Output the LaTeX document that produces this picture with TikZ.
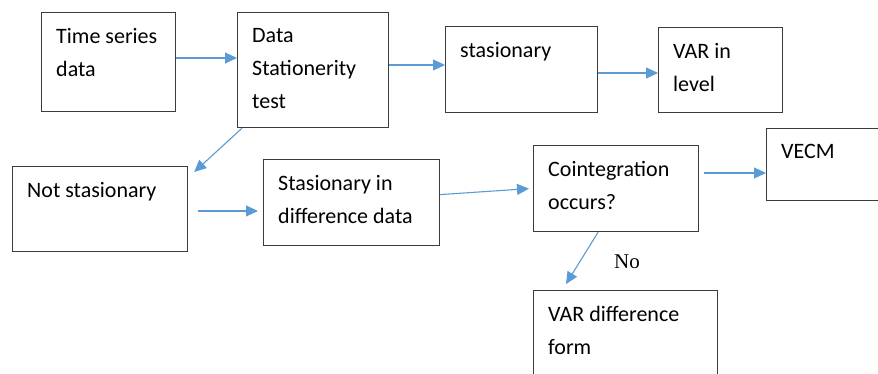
\documentclass[tikz,border=0pt]{standalone}
\usepackage{fontspec}
\setmainfont{Carlito}
\newfontfamily\serifno{Liberation Serif}
\usetikzlibrary{arrows.meta}

\definecolor{flowblue}{RGB}{91,155,213}
\definecolor{boxgray}{RGB}{60,60,60}

\begin{document}
\begin{tikzpicture}[x=1pt, y=-1pt,
	blk/.style={draw=boxgray, line width=1.2pt, anchor=north west, inner sep=0pt},
	txt/.style={anchor=north west, align=left, inner sep=0pt, xshift=15pt, yshift=-16pt,
		font=\fontsize{22}{33}\selectfont},
	arr/.style={draw=flowblue, line width=1.1pt, -{Triangle[length=12pt,width=11pt]}}]

	\useasboundingbox (0,0) rectangle (878,374);
	\clip (0,0) rectangle (878,374);

	% top row
	\node[blk, minimum width=134pt, minimum height=99pt,
		label={[txt]north west:Time series\\data}] (ts) at (41,12) {};
	\node[blk, minimum width=151pt, minimum height=115pt,
		label={[txt]north west:Data\\Stationerity\\test}] (st) at (237,12) {};
	\node[blk, minimum width=152pt, minimum height=86pt,
		label={[txt]north west:stasionary}] (sta) at (445,26) {};
	\node[blk, minimum width=124pt, minimum height=85pt,
		label={[txt]north west:VAR in\\level}] (var) at (658,27) {};

	% second row
	\node[blk, minimum width=175pt, minimum height=85pt,
		label={[txt]north west:Not stasionary}] (ns) at (12,166) {};
	\node[blk, minimum width=176pt, minimum height=86pt,
		label={[txt]north west:Stasionary in\\difference data}] (sd) at (263,159) {};
	\node[blk, minimum width=165pt, minimum height=86pt,
		label={[txt]north west:Cointegration\\occurs?}] (ci) at (533,145) {};
	\node[blk, minimum width=130pt, minimum height=72pt,
		label={[txt]north west:VECM}] (vecm) at (766,128) {};

	% bottom
	\node[blk, minimum width=184pt, minimum height=100pt,
		label={[txt]north west:VAR difference\\form}] (vd) at (533,290) {};

	\node[font=\serifno\fontsize{21}{24}\selectfont] (no) at (627,262) {No};

	% arrows
	\draw[arr] (ts.east |- 0,58) -- (st.west |- 0,58);
	\draw[arr] (st.east |- 0,65) -- (sta.west |- 0,65);
	\draw[arr] (sta.east |- 0,73) -- (var.west |- 0,73);
	\draw[arr] ([xshift=5pt]st.south west) -- ([xshift=6pt,yshift=-6pt]ns.north east);
	\draw[arr, shorten <=10pt, shorten >=5pt] (ns.east |- 0,211) -- (sd.west |- 0,211);
	\draw[arr] ([yshift=8pt]sd.east) -- ([xshift=-4pt]ci.west);
	\draw[arr, shorten <=5pt] (ci.east |- 0,173) -- (vecm.west |- 0,173);
	\draw[arr] ([xshift=-18pt]ci.south) -- ([xshift=33pt,yshift=6pt]vd.north west);

\end{tikzpicture}
\end{document}
